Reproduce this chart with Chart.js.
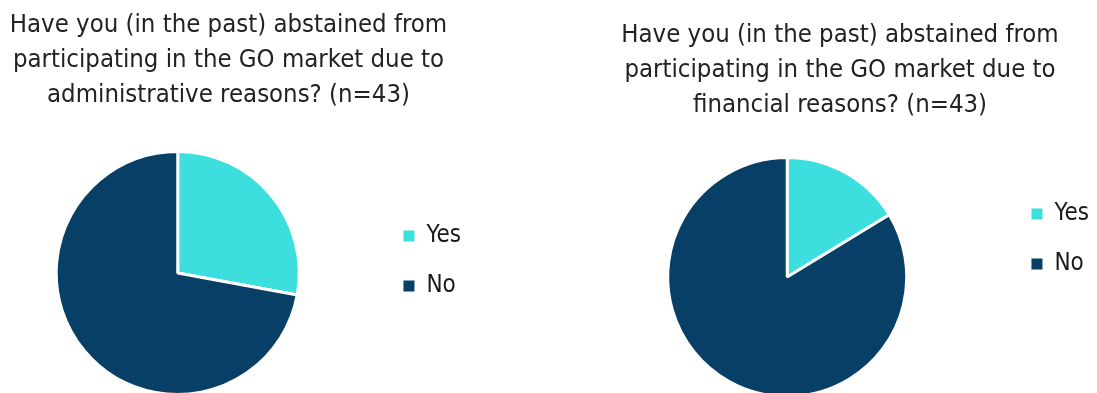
<!DOCTYPE html>
<html>
<head>
<meta charset="utf-8">
<script src="https://cdn.jsdelivr.net/npm/chart.js@4.4.1/dist/chart.umd.min.js"></script>
<style>
  html, body { margin: 0; padding: 0; background: #fff; overflow: hidden; width: 1097px; height: 393px; }
  .panel { position: absolute; top: 0; }
  #adminBox { left: -22px; width: 502px; height: 396px; }
  #financialBox { left: 569px; width: 540px; height: 398px; }
</style>
</head>
<body>
<div class="panel" id="adminBox"><canvas id="adminChart"></canvas></div>
<div class="panel" id="financialBox"><canvas id="financialChart"></canvas></div>
<script>
const answers = ['Yes', 'No']
const adminCounts = [12, 31]
const financialCounts = [7, 36]

const adminTitle = [
    'Have you (in the past) abstained from',
    'participating in the GO market due to',
    'administrative reasons? (n=43)'
]
const financialTitle = [
    'Have you (in the past) abstained from',
    'participating in the GO market due to',
    'financial reasons? (n=43)'
]

const sliceColors = ['#3cdfdd', '#083f66']
const fontFamily = "'DejaVu Sans Condensed', 'Liberation Sans Narrow', sans-serif"

// shifts legend (vertically) and title (horizontally) after layout,
// the report doesn't center them on the pie
const boxNudge = {
    id: 'boxNudge',
    afterLayout(chart, args, opts) {
        const { legend, titleBlock } = chart
        if (legend && opts.legendY) {
            legend.top += opts.legendY
            legend.bottom += opts.legendY
        }
        if (titleBlock && opts.titleX) {
            titleBlock.left += opts.titleX
            titleBlock.right += opts.titleX
        }
    }
}

// legend squares without the white slice border
const squareLabels = chart =>
    Chart.overrides.pie.plugins.legend.labels.generateLabels(chart)
        .map(item => ({ ...item, lineWidth: 0 }))

const renderPie = (canvasId, title, counts, titlePadding, padRight, nudge) => {
    const data = {
        labels: answers,
        datasets: [{
            data: counts,
            backgroundColor: sliceColors,
            borderColor: '#fff',
            borderWidth: 3
        }]
    }

    const options = {
        responsive: true,
        maintainAspectRatio: false,
        animation: false,
        layout: { padding: { right: padRight } },
        plugins: {
            title: {
                display: true,
                text: title,
                color: '#222',
                font: { family: fontFamily, size: 25.5, weight: 'normal', lineHeight: 35 / 25.5 },
                padding: titlePadding
            },
            legend: {
                position: 'right',
                fullSize: false,
                labels: {
                    color: '#1a1a1a',
                    font: { family: fontFamily, size: 24 },
                    boxWidth: 11,
                    boxHeight: 11,
                    padding: 26,
                    generateLabels: squareLabels
                }
            },
            tooltip: { enabled: false },
            boxNudge: nudge
        }
    }

    new Chart(canvasId, { type: 'pie', data, options, plugins: [boxNudge] })
}

renderPie('adminChart', adminTitle, adminCounts, { top: 7.5, bottom: 37.5 }, 9, { legendY: -12, titleX: 4 })
renderPie('financialChart', financialTitle, financialCounts, { top: 17.5, bottom: 33.5 }, 10, { legendY: -38, titleX: 6 })
</script>
</body>
</html>
